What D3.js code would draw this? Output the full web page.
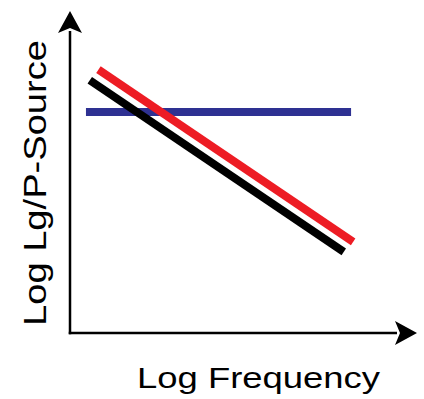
<!DOCTYPE html>
<html>
<head>
<meta charset="utf-8">
<script src="https://cdn.jsdelivr.net/npm/d3@7"></script>
<style>
  html, body { margin: 0; padding: 0; background: #fff; }
</style>
</head>
<body>
<div id="chart"></div>
<script>
// schematic: log frequency vs log ratio (arbitrary units 0..10)
const seriesNames = ["Lg/P-Source", "model A", "model B"];
const seriesColors = ["#2e3192", "#ed1c24", "#000000"];
const blueX = [0.46, 8.10];
const blueY = [6.86, 6.86];
const redX = [0.82, 8.16];
const redY = [8.18, 2.83];
const blackX = [0.57, 7.89];
const blackY = [7.85, 2.52];

const xLabel = "Log Frequency";
const yLabel = "Log Lg/P-Source";

const width = 424, height = 399;
const margin = {top: 11, right: 7, bottom: 66, left: 70};

const xScale = d3.scaleLinear().domain([0, 10]).range([margin.left, width - margin.right]);
const yScale = d3.scaleLinear().domain([0, 10]).range([height - margin.bottom, margin.top]);

const svg = d3.select("#chart").append("svg")
  .attr("width", width)
  .attr("height", height);

const series = [
  {x: blueX, y: blueY},
  {x: redX, y: redY},
  {x: blackX, y: blackY}
].map((s, i) => ({name: seriesNames[i], color: seriesColors[i], pts: s.x.map((v, j) => [v, s.y[j]])}));

const line = d3.line().x(d => xScale(d[0])).y(d => yScale(d[1]));

// blue underneath, sloped lines on top
const order = [0, 2, 1];
svg.selectAll("path.series").data(order.map(i => series[i]))
  .join("path")
  .classed("series", true)
  .attr("d", d => line(d.pts))
  .attr("fill", "none")
  .attr("stroke", d => d.color)
  .attr("stroke-width", 8)
  .attr("stroke-linecap", "butt");

// axes with arrow heads
const x0 = xScale(0), y0 = yScale(0);
const xEnd = xScale(10), yEnd = yScale(10);
const axisW = 2.5;

svg.append("line")
  .attr("x1", x0).attr("y1", y0 + axisW / 2)
  .attr("x2", x0).attr("y2", yEnd + 20)
  .attr("stroke", "#000").attr("stroke-width", axisW);
svg.append("line")
  .attr("x1", x0 - axisW / 2).attr("y1", y0)
  .attr("x2", xEnd - 20).attr("y2", y0)
  .attr("stroke", "#000").attr("stroke-width", axisW);

svg.append("path")
  .attr("d", `M${x0},${yEnd} L${x0 - 12},${yEnd + 22} L${x0},${yEnd + 17} L${x0 + 12},${yEnd + 22} Z`)
  .attr("fill", "#000");
svg.append("path")
  .attr("d", `M${xEnd},${y0} L${xEnd - 22},${y0 - 12} L${xEnd - 17},${y0} L${xEnd - 22},${y0 + 12} Z`)
  .attr("fill", "#000");

// labels
svg.append("text")
  .attr("x", 137)
  .attr("y", 388)
  .attr("font-family", "Liberation Sans, Arial, sans-serif")
  .attr("font-size", 30)
  .attr("textLength", 243)
  .attr("lengthAdjust", "spacingAndGlyphs")
  .attr("fill", "#000")
  .text(xLabel);

svg.append("text")
  .attr("transform", "translate(46,326) rotate(-90)")
  .attr("x", 0)
  .attr("y", 0)
  .attr("font-family", "Liberation Sans, Arial, sans-serif")
  .attr("font-size", 31)
  .attr("textLength", 286)
  .attr("lengthAdjust", "spacingAndGlyphs")
  .attr("fill", "#000")
  .text(yLabel);
</script>
</body>
</html>
